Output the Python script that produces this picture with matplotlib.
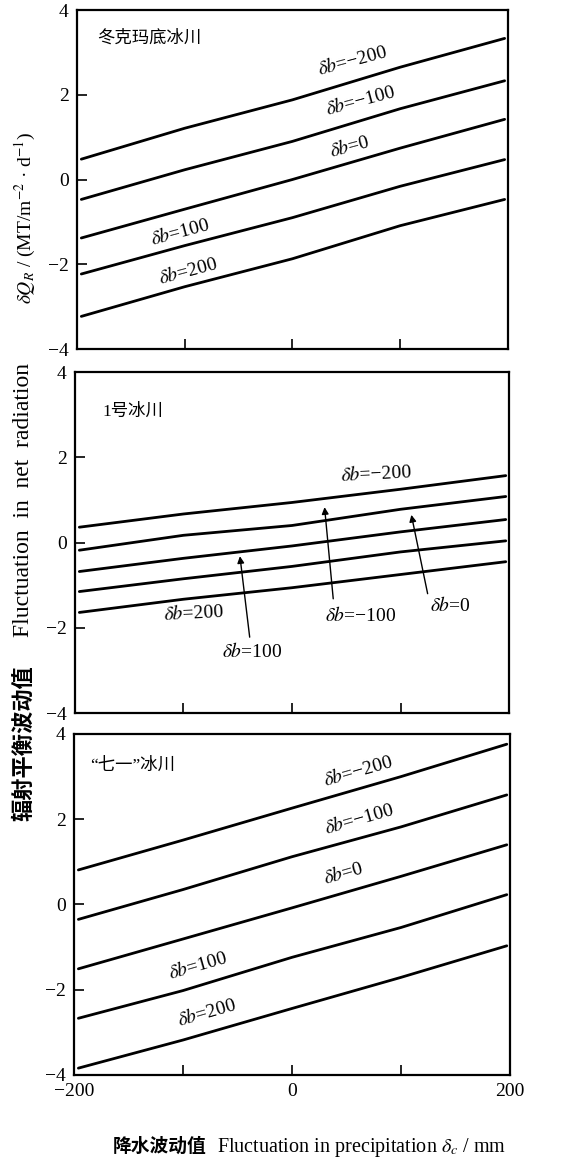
import numpy as np
import matplotlib
matplotlib.use('Agg')
import matplotlib.pyplot as plt

plt.rcParams['font.family'] = ['Liberation Serif', 'Noto Sans CJK SC']
plt.rcParams['mathtext.fontset'] = 'stix'

# точки по оси осадков (мм)
x_pts = [-196, -100, 0, 100, 197]
db_values = [-200, -100, 0, 100, 200]

# 冬克玛底冰川
top_vals = [
    [0.48, 1.21, 1.88, 2.65, 3.33],
    [-0.47, 0.23, 0.90, 1.67, 2.33],
    [-1.38, -0.70, 0.00, 0.74, 1.42],
    [-2.23, -1.56, -0.90, -0.16, 0.47],
    [-3.23, -2.53, -1.87, -1.09, -0.47],
]
# 1号冰川
mid_vals = [
    [0.36, 0.67, 0.94, 1.25, 1.57],
    [-0.18, 0.17, 0.40, 0.78, 1.08],
    [-0.68, -0.37, -0.08, 0.25, 0.54],
    [-1.15, -0.85, -0.56, -0.22, 0.04],
    [-1.64, -1.33, -1.06, -0.75, -0.45],
]
# "七一"冰川
bot_vals = [
    [0.81, 1.51, 2.26, 3.00, 3.76],
    [-0.35, 0.35, 1.12, 1.82, 2.57],
    [-1.51, -0.81, -0.08, 0.66, 1.40],
    [-2.67, -2.02, -1.24, -0.54, 0.23],
    [-3.84, -3.18, -2.44, -1.71, -0.97],
]

glaciers = ['冬克玛底冰川', '1号冰川', '“七一”冰川']
y_ticks = [-4, -2, 0, 2, 4]
x_ticks = [-200, -100, 0, 100, 200]
x_ticklabels = ['−200', '', '0', '', '200']


def label(db):
    s = '−' + str(abs(db)) if db < 0 else str(db)
    return r'$\delta b$=' + s


fig = plt.figure(figsize=(5.76, 11.63), dpi=100)
ax1 = fig.add_axes([0.1337, 0.6999, 0.748, 0.2915])
ax2 = fig.add_axes([0.1302, 0.3869, 0.7535, 0.2932])
ax3 = fig.add_axes([0.1285, 0.0757, 0.757, 0.2932])
axes = [ax1, ax2, ax3]
all_vals = [top_vals, mid_vals, bot_vals]

for ax, vals, name in zip(axes, all_vals, glaciers):
    for v in vals:
        ax.plot(x_pts, v, color='black', lw=2.0, solid_capstyle='round')
    ax.set_xlim(-200, 200)
    ax.set_ylim(-4, 4)
    ax.set_yticks(y_ticks)
    ax.set_yticklabels(['−4', '−2', '0', '2', '4'])
    ax.set_xticks(x_ticks)
    ax.tick_params(direction='in', length=7, width=1.2, labelsize=14, pad=6)
    for s in ax.spines.values():
        s.set_linewidth(1.6)
    if ax is ax3:
        ax.set_xticklabels(x_ticklabels)
    else:
        ax.set_xticklabels([])

ax1.text(-181, 3.32, glaciers[0], fontsize=12.5, va='center')
ax2.text(-175, 3.07, glaciers[1], fontsize=12.5, va='center')
ax3.text(-185, 3.26, glaciers[2], fontsize=12.5, va='center')

# подписи линий, верхняя панель
top_pos = [(56, 2.80), (63, 1.87), (53, 0.77), (-104, -1.24), (-97, -2.15)]
for db, (x, y) in zip(db_values, top_pos):
    ax1.text(x, y, label(db), fontsize=14, rotation=15, ha='center', va='center')

# нижняя панель
bot_pos = [(61, 3.14), (62, 2.00), (47, 0.73), (-86, -1.43), (-78, -2.53)]
for db, (x, y) in zip(db_values, bot_pos):
    ax3.text(x, y, label(db), fontsize=14, rotation=16, ha='center', va='center')

# средняя панель: подписи и стрелки
ax2.text(78, 1.62, label(-200), fontsize=14, rotation=3, ha='center', va='center')
ax2.text(-91, -1.66, label(200), fontsize=14, rotation=3, ha='center', va='center')
mid_arrows = [
    (100, (-37, -2.56), (-39, -2.22), (-48, -0.32)),
    (-100, (63, -1.71), (38, -1.32), (30, 0.83)),
    (0, (146, -1.48), (125, -1.20), (110, 0.65)),
]
for db, tpos, start, tip in mid_arrows:
    ax2.text(tpos[0], tpos[1], label(db), fontsize=14, ha='center', va='center')
    ax2.annotate('', xy=tip, xytext=start,
                 arrowprops=dict(arrowstyle='-|>', lw=1.0, color='black',
                                 mutation_scale=10, shrinkA=0, shrinkB=0))

# подписи осей
fig.text(24 / 576, 1 - 743 / 1163, '辐射平衡波动值', rotation=90, fontsize=16,
         fontweight='bold', family=['Noto Sans CJK SC'], ha='center', va='center')
fig.text(24 / 576, 1 - 500 / 1163, 'Fluctuation  in  net  radiation', rotation=90,
         fontsize=17, ha='center', va='center')
fig.text(25 / 576, 1 - 218 / 1163, r'$\delta Q_R$ / (MT/m$^{-2}$ · d$^{-1}$)',
         rotation=90, fontsize=14, ha='center', va='center')

fig.text(113 / 576, 1 - 1152 / 1163, '降水波动值', fontsize=13.5, fontweight='bold',
         family=['Noto Sans CJK SC'], ha='left', va='baseline')
fig.text(217 / 576, 1 - 1152 / 1163, r'Fluctuation in precipitation $\delta_c$ / mm',
         fontsize=14.5, ha='left', va='baseline')

fig.savefig('out.png', dpi=100)
